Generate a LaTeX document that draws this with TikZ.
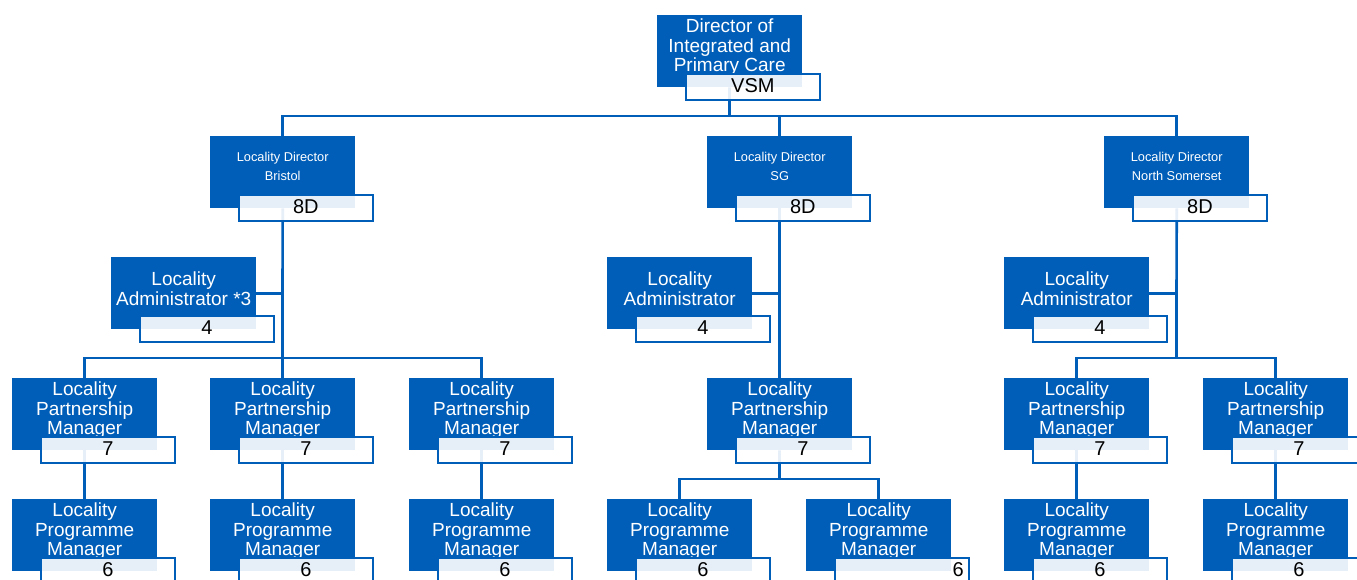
\documentclass[tikz,border=0pt]{standalone}
\usepackage{fontspec}
\setmainfont{Liberation Sans}
\usetikzlibrary{calc,backgrounds}
\definecolor{nhsblue}{HTML}{005EB8}

% blue role box with its grade tag
\newcommand{\orgbox}[7][]{%
	\node[rolebox] (#2) at (#3,#4) {};
	\node[#5] (#2-t) at (#2.north) {#6};
	\node[gradebox] (#2-g) at ($(#2.north west)+(28,58)$) {};
	\node[gradetext,#1] (#2-n) at (#2-g) {#7};
}

\begin{document}
\begin{tikzpicture}
	  [
	    x = 1pt, y = -1pt,
	    rolebox/.style   = {
	    	anchor=north west, fill=nhsblue, draw=none,
	    	minimum width=145pt, minimum height=72pt, inner sep=0pt
	    },
	    gradebox/.style  = {
	    	anchor=north west, draw=nhsblue, line width=1.8pt,
	    	fill=white, fill opacity=0.9,
	    	minimum width=134pt, minimum height=26pt, inner sep=0pt
	    },
	    gradetext/.style = {
	    	text=black, inner sep=0pt, yshift=1.5pt,
	    	font=\fontsize{20}{20}\selectfont
	    },
	    bigtext/.style   = {
	    	anchor=north, yshift=-4pt, text=white, align=center, inner sep=0pt,
	    	font=\fontsize{19}{19.5}\selectfont
	    },
	    admtext/.style   = {bigtext, yshift=-11pt},
	    smalltext/.style = {
	    	anchor=north, yshift=-16.5pt, text=white, align=center, inner sep=0pt,
	    	font=\fontsize{12.8}{19}\selectfont
	    },
	    link/.style      = {draw=nhsblue, line width=2.7pt}
	  ]
	\useasboundingbox (0,0) rectangle (1357,579);

	% director
	\orgbox{top}{657}{15}{bigtext}{Director of\\Integrated and\\Primary Care}{VSM}

	% locality directors
	\orgbox{dirB}{210}{136}{smalltext}{Locality Director\\Bristol}{8D}
	\orgbox{dirS}{707}{136}{smalltext}{Locality Director\\SG}{8D}
	\orgbox{dirN}{1104}{136}{smalltext}{Locality Director\\North Somerset}{8D}

	% administrators
	\orgbox{admB}{111}{257}{admtext}{Locality\\Administrator *3}{4}
	\orgbox{admS}{607}{257}{admtext}{Locality\\Administrator}{4}
	\orgbox{admN}{1004}{257}{admtext}{Locality\\Administrator}{4}

	% partnership managers
	\orgbox{lpmB1}{12}{378}{bigtext}{Locality\\Partnership\\Manager}{7}
	\orgbox{lpmB2}{210}{378}{bigtext}{Locality\\Partnership\\Manager}{7}
	\orgbox{lpmB3}{409}{378}{bigtext}{Locality\\Partnership\\Manager}{7}
	\orgbox{lpmS}{707}{378}{bigtext}{Locality\\Partnership\\Manager}{7}
	\orgbox{lpmN1}{1004}{378}{bigtext}{Locality\\Partnership\\Manager}{7}
	\orgbox{lpmN2}{1203}{378}{bigtext}{Locality\\Partnership\\Manager}{7}

	% programme managers
	\orgbox{lpgB1}{12}{499}{bigtext}{Locality\\Programme\\Manager}{6}
	\orgbox{lpgB2}{210}{499}{bigtext}{Locality\\Programme\\Manager}{6}
	\orgbox{lpgB3}{409}{499}{bigtext}{Locality\\Programme\\Manager}{6}
	\orgbox{lpgS1}{607}{499}{bigtext}{Locality\\Programme\\Manager}{6}
	\orgbox[anchor=east, xshift=62pt]{lpgS2}{806}{499}{bigtext}{Locality\\Programme\\Manager}{6}
	\orgbox{lpgN1}{1004}{499}{bigtext}{Locality\\Programme\\Manager}{6}
	\orgbox{lpgN2}{1203}{499}{bigtext}{Locality\\Programme\\Manager}{6}

	\coordinate (busA) at (729.5,116);
	\coordinate (busB) at (282.5,358);
	\coordinate (busS) at (779.5,479);
	\coordinate (busN) at (1176.5,358);

	\begin{scope}[on background layer]
		\draw[link] (top) -- (busA);
		\draw[link] (dirB) |- (busA) -| (dirN);
		\draw[link] (dirS) -- (dirS |- busA);
		% Bristol
		\draw[link] (dirB) -- (busB);
		\draw[link] (admB) -- (admB -| dirB);
		\draw[link] (lpmB1) |- (busB) -| (lpmB3);
		\draw[link] (lpmB2) -- (busB);
		\draw[link] (lpmB1) -- (lpgB1);
		\draw[link] (lpmB2) -- (lpgB2);
		\draw[link] (lpmB3) -- (lpgB3);
		% SG
		\draw[link] (dirS) -- (lpmS);
		\draw[link] (admS) -- (admS -| dirS);
		\draw[link] (lpmS) -- (busS);
		\draw[link] (lpgS1) |- (busS) -| (lpgS2);
		% North Somerset
		\draw[link] (dirN) -- (busN);
		\draw[link] (admN) -- (admN -| dirN);
		\draw[link] (lpmN1) |- (busN) -| (lpmN2);
		\draw[link] (lpmN1) -- (lpgN1);
		\draw[link] (lpmN2) -- (lpgN2);
	\end{scope}
\end{tikzpicture}
\end{document}
